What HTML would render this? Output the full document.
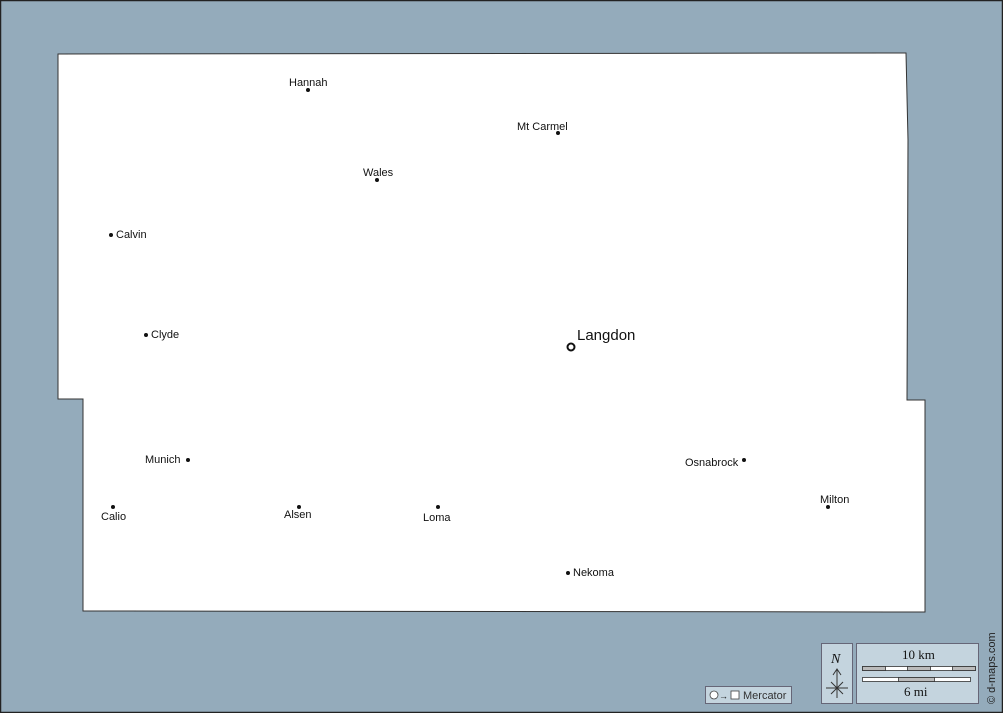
<!DOCTYPE html>
<html><head><style>
html,body{margin:0;padding:0;}
body{width:1003px;height:713px;overflow:hidden;}
text{font-family:"Liberation Sans",sans-serif;font-size:11px;fill:#111;}
</style></head><body>
<svg width="1003" height="713" viewBox="0 0 1003 713" xmlns="http://www.w3.org/2000/svg">
<rect x="0.5" y="0.5" width="1002" height="712" fill="#94abbb" stroke="#222" stroke-width="1.5"/>
<polygon points="58,54 906,53 908,140 907,400 925,400 925,612 83,611 83,399 58,399" fill="#fff" stroke="#333" stroke-width="1"/>
<g fill="#111">
<circle cx="308" cy="90" r="2"/><circle cx="558" cy="133" r="2"/><circle cx="377" cy="180" r="2"/>
<circle cx="111" cy="235" r="2"/><circle cx="146" cy="335" r="2"/><circle cx="188" cy="460" r="2"/>
<circle cx="744" cy="460" r="2"/><circle cx="113" cy="507" r="2"/><circle cx="299" cy="507" r="2"/>
<circle cx="438" cy="507" r="2"/><circle cx="828" cy="507" r="2"/><circle cx="568" cy="573" r="2"/>
</g>
<circle cx="571" cy="347" r="3.5" fill="none" stroke="#111" stroke-width="2"/>
<text x="289" y="86">Hannah</text>
<text x="517" y="130">Mt Carmel</text>
<text x="363" y="176">Wales</text>
<text x="116" y="238">Calvin</text>
<text x="151" y="338">Clyde</text>
<text x="577" y="340" style="font-size:15px">Langdon</text>
<text x="145" y="463">Munich</text>
<text x="685" y="466">Osnabrock</text>
<text x="820" y="503">Milton</text>
<text x="101" y="520">Calio</text>
<text x="284" y="518">Alsen</text>
<text x="423" y="521">Loma</text>
<text x="573" y="576">Nekoma</text>
<rect x="705.5" y="686.5" width="86" height="17" fill="#c4d4de" stroke="#667"/>
<circle cx="714" cy="695" r="4" fill="#fff" stroke="#444" stroke-width="0.8"/>
<text x="719" y="699" style="font-size:9px">→</text>
<rect x="731" y="691" width="8" height="8" fill="#fff" stroke="#444" stroke-width="0.8"/>
<text x="743" y="699" style="font-size:11px;fill:#333">Mercator</text>
<rect x="821.5" y="643.5" width="31" height="60" fill="#c4d4de" stroke="#667"/>
<text x="831" y="663" style="font-family:'Liberation Serif',serif;font-style:italic;font-size:14px">N</text>
<line x1="837" y1="670" x2="837" y2="698" stroke="#333"/>
<path d="M833,675 L837,669 L841,675" fill="none" stroke="#333"/>
<line x1="826" y1="688" x2="848" y2="688" stroke="#333"/>
<line x1="831" y1="682" x2="843" y2="694" stroke="#333"/>
<line x1="843" y1="682" x2="831" y2="694" stroke="#333"/>
<rect x="856.5" y="643.5" width="122" height="60" fill="#c4d4de" stroke="#667"/>
<text x="902" y="659" style="font-family:'Liberation Serif',serif;font-size:13px">10 km</text>
<rect x="862.5" y="666.5" width="113" height="4" fill="#fff" stroke="#333" stroke-width="0.8"/>
<rect x="862.5" y="666.5" width="23" height="4" fill="#bbb" stroke="#333" stroke-width="0.8"/>
<rect x="907.5" y="666.5" width="23" height="4" fill="#bbb" stroke="#333" stroke-width="0.8"/>
<rect x="952.5" y="666.5" width="23" height="4" fill="#bbb" stroke="#333" stroke-width="0.8"/>
<rect x="862.5" y="677.5" width="108" height="4" fill="#fff" stroke="#333" stroke-width="0.8"/>
<rect x="898.5" y="677.5" width="36" height="4" fill="#bbb" stroke="#333" stroke-width="0.8"/>
<text x="904" y="696" style="font-family:'Liberation Serif',serif;font-size:13px">6 mi</text>
<text transform="translate(995,704) rotate(-90)" style="font-size:11px;fill:#222">© d-maps.com</text>
</svg>
</body></html>
